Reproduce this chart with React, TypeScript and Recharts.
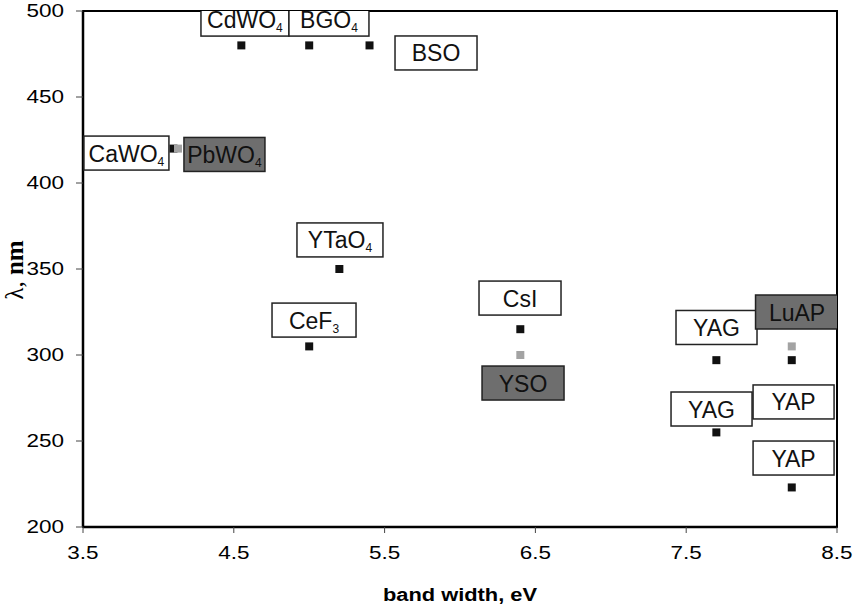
import React from 'react';
import { ScatterChart, Scatter, XAxis, YAxis, ReferenceArea, Label } from 'recharts';

// black markers
const blackNames = ['CdWO4', 'BGO', 'BSO', 'CaWO4', 'YTaO4', 'CeF3', 'CsI', 'YAG', 'YAG', 'YAP', 'YAP'];
const blackBand = [4.55, 5.0, 5.4, 4.1, 5.2, 5.0, 6.4, 7.7, 7.7, 8.2, 8.2];
const blackLambda = [480, 480, 480, 420, 350, 305, 315, 297, 255, 297, 223];

// gray markers
const grayNames = ['PbWO4', 'YSO', 'LuAP'];
const grayBand = [4.13, 6.4, 8.2];
const grayLambda = [420, 300, 305];

// annotation boxes (text, subscript, anchor in data units)
const labelText = ['CdWO', 'BGO', 'BSO', 'CaWO', 'PbWO', 'YTaO', 'CeF', 'CsI', 'YSO', 'YAG', 'LuAP', 'YAG', 'YAP', 'YAP'];
const labelSub = ['4', '4', '', '4', '4', '4', '3', '', '', '', '', '', '', ''];
const labelBand = [4.574, 5.131, 5.841, 3.788, 4.438, 5.204, 5.032, 6.398, 6.418, 7.701, 8.235, 7.668, 8.212, 8.212];
const labelLambda = [495.3, 495.3, 475.6, 417.4, 416.6, 366.9, 320.3, 333.1, 283.7, 316, 325, 268.6, 272.7, 240.1];
const labelDark = [false, false, false, false, true, false, false, false, true, false, true, false, false, false];
const labelWidth = [88, 80, 82, 85, 81, 86, 84, 82, 82, 81, 83, 81, 81, 81];

const xTicks = [3.5, 4.5, 5.5, 6.5, 7.5, 8.5];
const yTicks = [200, 250, 300, 350, 400, 450, 500];

const blackData = blackBand.map((x, i) => ({ x, y: blackLambda[i], name: blackNames[i] }));
const grayData = grayBand.map((x, i) => ({ x, y: grayLambda[i], name: grayNames[i] }));
const labelData = labelBand.map((x, i) => ({
  x,
  y: labelLambda[i],
  text: labelText[i],
  sub: labelSub[i],
  dark: labelDark[i],
  w: labelWidth[i],
}));

const FONT = '"Liberation Sans", Arial, Helvetica, sans-serif';

const squareShape = (color: string) => (props: any) => {
  const { cx, cy } = props;
  return <rect x={cx - 4} y={cy - 4} width={8} height={8} fill={color} />;
};

const boxShape = (props: any) => {
  const { cx, cy } = props;
  const p = props.payload || props;
  const w = p.w;
  const h = 34;
  return (
    <g>
      <rect
        x={cx - w / 2}
        y={cy - h / 2}
        width={w}
        height={h}
        fill={p.dark ? '#6e6e6e' : '#ffffff'}
        stroke="#222"
        strokeWidth={1.5}
      />
      <text x={cx} y={cy + 8.5} textAnchor="middle" fontFamily={FONT} fontSize={23} fill="#111">
        {p.text}
        {p.sub ? (
          <tspan fontSize={12} dy={4}>
            {p.sub}
          </tspan>
        ) : null}
      </text>
    </g>
  );
};

const XTick = (props: any) => {
  const { x, y, payload } = props;
  return (
    <text
      x={0}
      y={0}
      dy="0.71em"
      transform={`translate(${x},${y}) scale(1.25,1)`}
      textAnchor="middle"
      fontFamily={FONT}
      fontSize={18}
      fill="#000"
    >
      {Number(payload.value).toFixed(1)}
    </text>
  );
};

const YTick = (props: any) => {
  const { x, y, payload } = props;
  return (
    <text
      x={0}
      y={0}
      dy="0.355em"
      transform={`translate(${x},${y}) scale(1.25,1)`}
      textAnchor="end"
      fontFamily={FONT}
      fontSize={18}
      fill="#000"
    >
      {payload.value}
    </text>
  );
};

const YTitle = () => (
  <text
    x={23}
    y={270}
    transform="rotate(-90 23 270)"
    textAnchor="middle"
    fontFamily='"Liberation Serif", "Times New Roman", serif'
    fontSize={25}
    fill="#000"
  >
    λ,{' '}
    <tspan fontWeight="bold">nm</tspan>
  </text>
);

const XTitle = () => (
  <text
    x={0}
    y={0}
    transform="translate(460,601) scale(1.15,1)"
    textAnchor="middle"
    fontFamily={FONT}
    fontWeight="bold"
    fontSize={19}
    fill="#000"
  >
    band width, eV
  </text>
);

export default function App() {
  return (
    <div style={{ position: 'absolute', left: 0, top: 0, background: '#fff' }}>
      <ScatterChart width={859} height={608} margin={{ top: 11, right: 22, bottom: 21, left: 23 }}>
        <XAxis
          type="number"
          dataKey="x"
          domain={[3.5, 8.5]}
          ticks={xTicks}
          height={60}
          tickSize={6}
          tickMargin={13}
          axisLine={{ stroke: '#000', strokeWidth: 2.5 }}
          tickLine={{ stroke: '#444', strokeWidth: 1 }}
          tick={<XTick />}
          allowDataOverflow
        >
          <Label content={<XTitle />} />
        </XAxis>
        <YAxis
          type="number"
          dataKey="y"
          domain={[200, 500]}
          ticks={yTicks}
          width={60}
          tickSize={7}
          tickMargin={12}
          axisLine={{ stroke: '#000', strokeWidth: 2.5 }}
          tickLine={{ stroke: '#444', strokeWidth: 1 }}
          tick={<YTick />}
          allowDataOverflow
        >
          <Label content={<YTitle />} />
        </YAxis>
        <ReferenceArea x1={3.5} x2={8.5} y1={200} y2={500} fill="none" stroke="#000" strokeWidth={2} />
        <Scatter data={blackData} shape={squareShape('#111')} isAnimationActive={false} />
        <Scatter data={grayData} shape={squareShape('#a3a3a3')} isAnimationActive={false} />
        <Scatter data={labelData} shape={boxShape} isAnimationActive={false} />
      </ScatterChart>
    </div>
  );
}
